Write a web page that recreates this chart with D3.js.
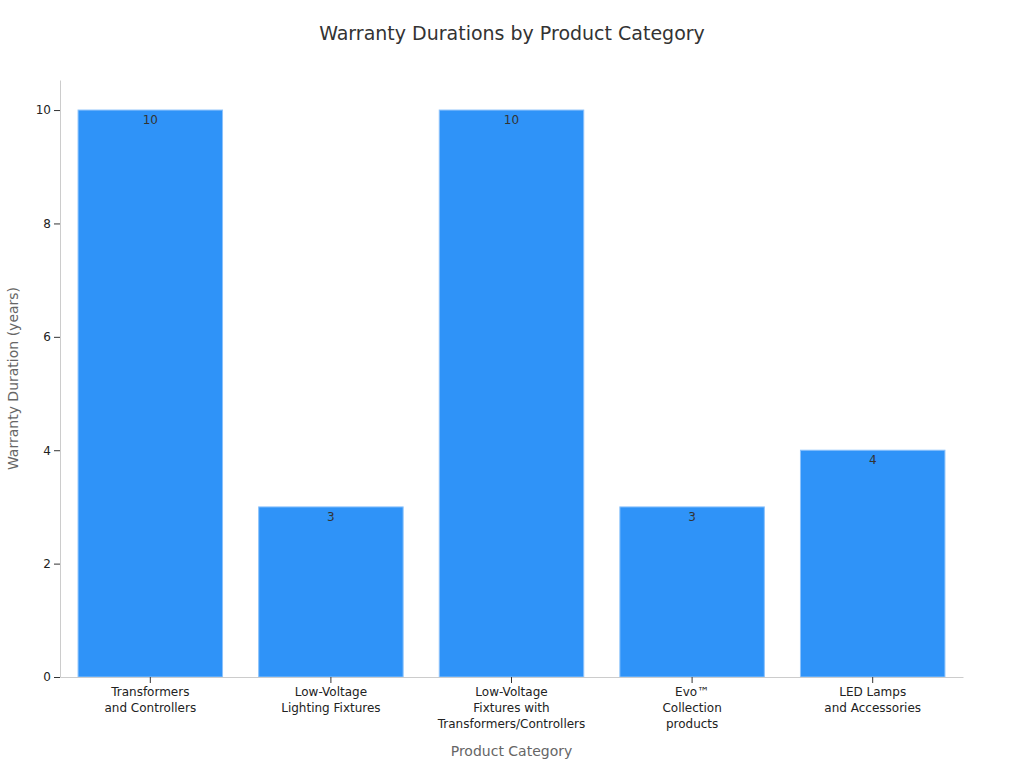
<!DOCTYPE html>
<html>
<head>
<meta charset="utf-8">
<script src="https://cdn.jsdelivr.net/npm/d3@7"></script>
<style>
  body { margin: 0; background: #fff; font-family: 'DejaVu Sans', sans-serif; }
  svg text { font-family: 'DejaVu Sans', sans-serif; }
</style>
</head>
<body>
<div id="chart"></div>
<script>
const categories = [
  'Transformers\nand Controllers',
  'Low-Voltage\nLighting Fixtures',
  'Low-Voltage\nFixtures with\nTransformers/Controllers',
  'Evo™\nCollection\nproducts',
  'LED Lamps\nand Accessories'
];
const warrantyYears = [10, 3, 10, 3, 4];
const yTicks = [0, 2, 4, 6, 8, 10];

const width = 1024;
const height = 768;
const margin = { top: 80, right: 61, bottom: 91, left: 60 };
const innerWidth = width - margin.left - margin.right;
const innerHeight = height - margin.top - margin.bottom;

const svg = d3.select('#chart')
  .append('svg')
  .attr('width', width)
  .attr('height', height);

const chart = svg.append('g')
  .attr('transform', `translate(${margin.left}, ${margin.top})`);

const x = d3.scaleBand()
  .domain(categories)
  .range([0, innerWidth])
  .paddingInner(0.2)
  .paddingOuter(0.1);

const y = d3.scaleLinear()
  .domain([0, 10.53])
  .range([innerHeight, 0]);

chart.selectAll('rect')
  .data(warrantyYears)
  .enter()
  .append('rect')
  .attr('x', (d, i) => x(categories[i]))
  .attr('y', d => y(d))
  .attr('width', x.bandwidth())
  .attr('height', d => innerHeight - y(d))
  .attr('fill', '#2f93f8')
  .attr('stroke', '#8cc2fb')
  .attr('stroke-width', 1);

chart.selectAll('.val')
  .data(warrantyYears)
  .enter()
  .append('text')
  .attr('x', (d, i) => x(categories[i]) + x.bandwidth() / 2)
  .attr('y', d => y(d) + 14)
  .attr('text-anchor', 'middle')
  .style('font-size', '12px')
  .style('fill', '#333')
  .text(d => d);

const xAxis = chart.append('g')
  .attr('transform', `translate(0, ${innerHeight})`)
  .call(d3.axisBottom(x).tickSizeOuter(0).tickFormat(''));
xAxis.select('.domain').attr('stroke', '#ccc');
xAxis.selectAll('.tick line').attr('stroke', '#333');
xAxis.selectAll('.tick').each(function (d) {
  const t = d3.select(this).append('text')
    .attr('fill', '#222')
    .attr('text-anchor', 'middle')
    .style('font-size', '12px');
  d.split('\n').forEach((line, i) => {
    t.append('tspan').attr('x', 0).attr('y', 19 + i * 16).text(line);
  });
});

const yAxis = chart.append('g')
  .call(d3.axisLeft(y).tickValues(yTicks).tickSizeOuter(0));
yAxis.select('.domain').attr('stroke', '#ccc');
yAxis.selectAll('.tick line').attr('stroke', '#333');
yAxis.selectAll('.tick text').style('font-size', '12px').attr('fill', '#222');

svg.append('text')
  .attr('x', width / 2)
  .attr('y', 40)
  .attr('text-anchor', 'middle')
  .style('font-size', '19px')
  .style('fill', '#333')
  .text('Warranty Durations by Product Category');

svg.append('text')
  .attr('x', margin.left + innerWidth / 2)
  .attr('y', 756)
  .attr('text-anchor', 'middle')
  .style('font-size', '14px')
  .style('fill', '#666')
  .text('Product Category');

svg.append('text')
  .attr('transform', 'rotate(-90)')
  .attr('x', -(margin.top + innerHeight / 2))
  .attr('y', 18)
  .attr('text-anchor', 'middle')
  .style('font-size', '14px')
  .style('fill', '#666')
  .text('Warranty Duration (years)');
</script>
</body>
</html>
